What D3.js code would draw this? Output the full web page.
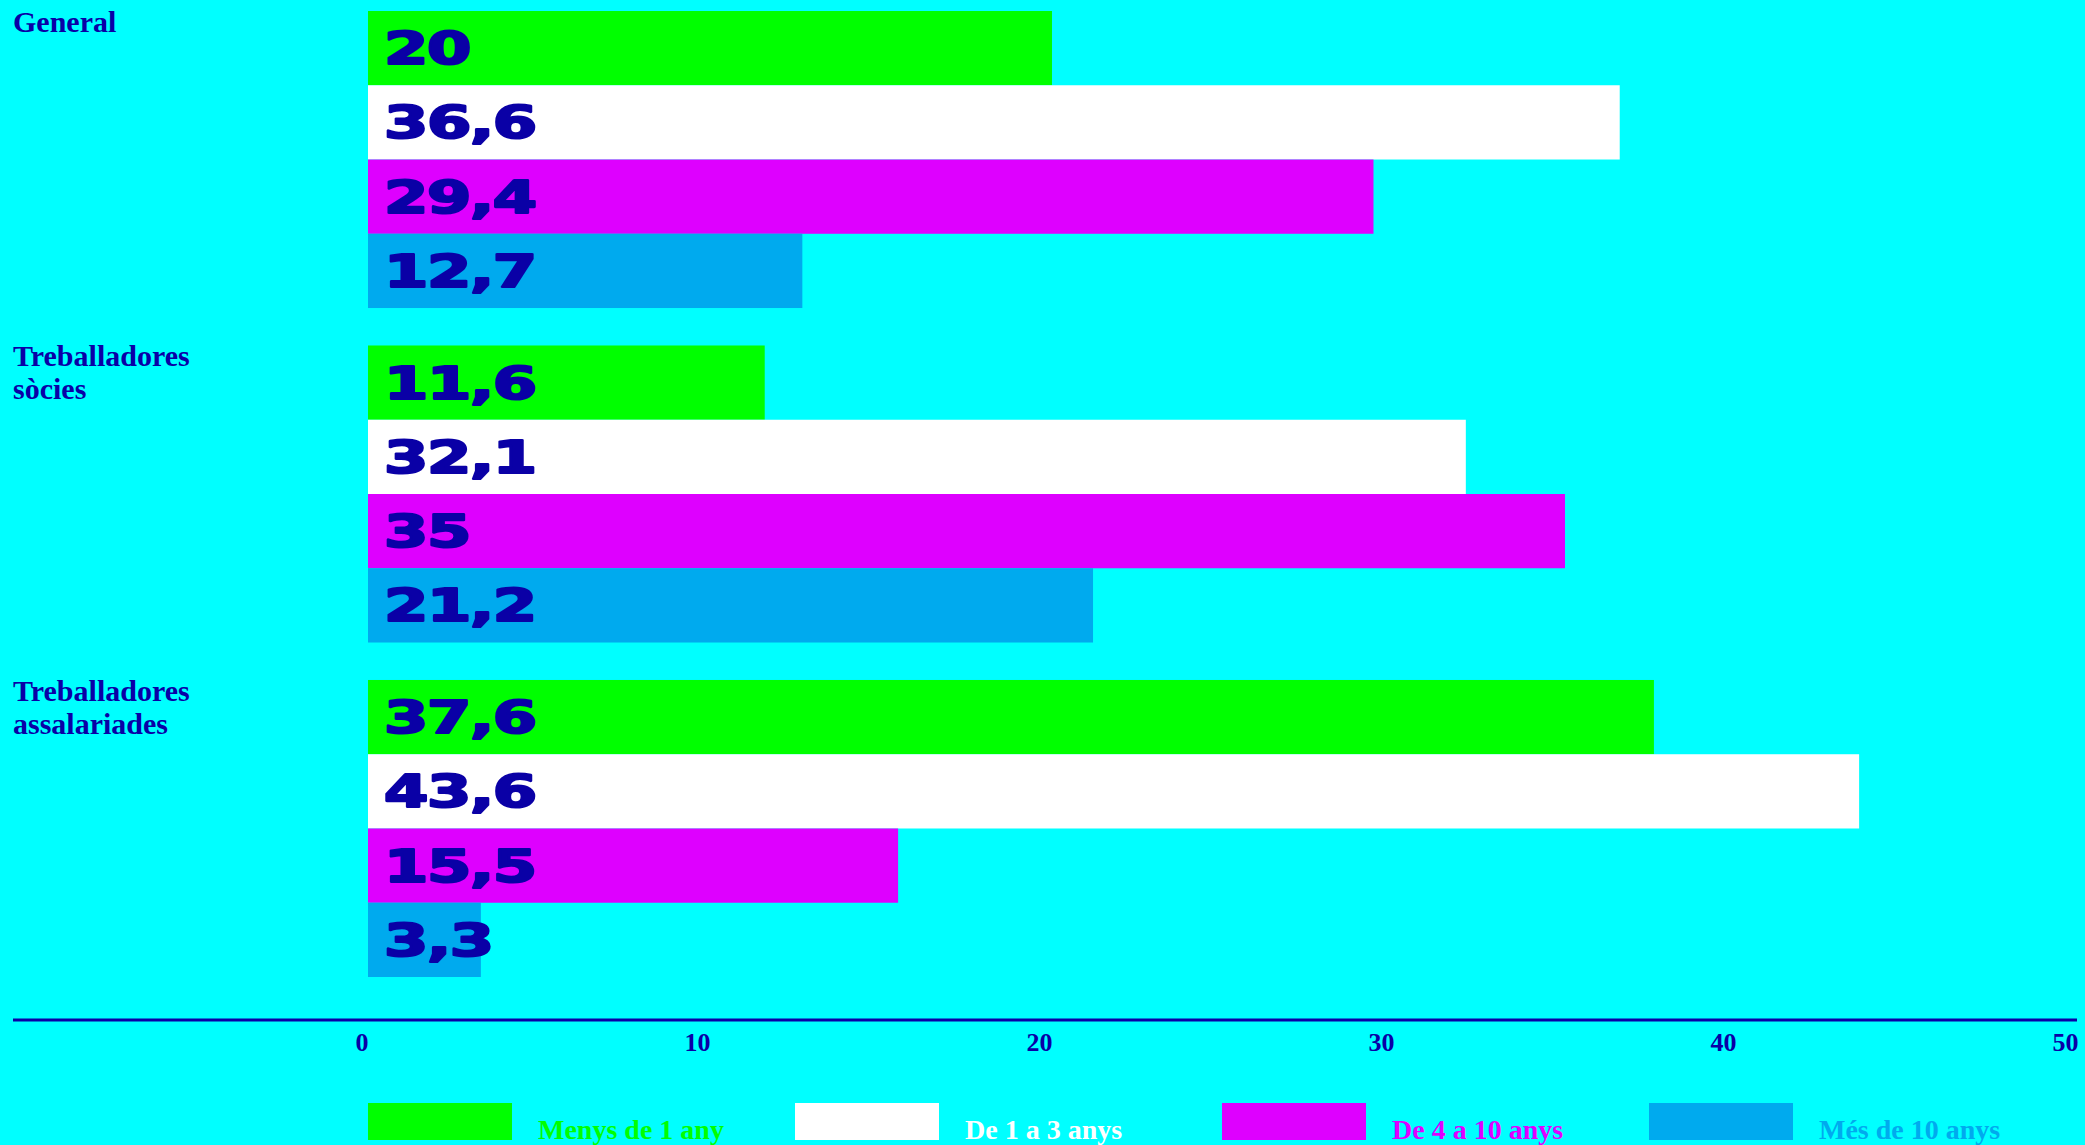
<!DOCTYPE html>
<html>
<head>
<meta charset="utf-8">
<script src="https://cdn.jsdelivr.net/npm/d3@7"></script>
<style>
  html, body { margin: 0; padding: 0; background: #00ffff; overflow: hidden; }
  svg { display: block; }
</style>
</head>
<body>
<svg id="chart" width="2085" height="1145"></svg>
<script>
// ---- data ----
const categories = [["General"], ["Treballadores", "sòcies"], ["Treballadores", "assalariades"]];
const series = ["Menys de 1 any", "De 1 a 3 anys", "De 4 a 10 anys", "Més de 10 anys"];
const menysDe1 = [20, 11.6, 37.6];
const de1a3 = [36.6, 32.1, 43.6];
const de4a10 = [29.4, 35, 15.5];
const mesDe10 = [12.7, 21.2, 3.3];
const tickValues = [0, 10, 20, 30, 40, 50];
const colors = ["#00ff00", "#ffffff", "#de00ff", "#00aaee"];

const seriesValues = [menysDe1, de1a3, de4a10, mesDe10];
const textColor = "#0a00a6";

const svg = d3.select("#chart");
svg.append("rect").attr("width", 2085).attr("height", 1145).attr("fill", "#00ffff");

const x = d3.scaleLinear().domain([0, 50]).range([368, 2078]);
const y0 = d3.scaleBand().domain(d3.range(categories.length)).range([11, 977]).paddingInner(0.112).paddingOuter(0);
const y1 = d3.scaleBand().domain(d3.range(series.length)).range([0, y0.bandwidth()]).padding(0);
const color = d3.scaleOrdinal().domain(d3.range(series.length)).range(colors);

const fmt = v => String(v).replace(".", ",");

// groups
const groups = svg.selectAll("g.grp").data(categories).join("g")
  .attr("class", "grp")
  .attr("transform", (d, i) => `translate(0,${y0(i)})`);

// category labels
groups.append("text")
  .attr("x", 13)
  .attr("y", 21)
  .attr("fill", textColor)
  .style("font-family", "'Liberation Serif', serif")
  .style("font-weight", "bold")
  .style("font-size", "30px")
  .selectAll("tspan").data(d => d).join("tspan")
  .attr("x", 13)
  .attr("dy", (d, i) => i === 0 ? 0 : 33)
  .text(d => d);

// bars
groups.each(function(_, gi) {
  const g = d3.select(this);
  const items = series.map((s, si) => ({ si, v: seriesValues[si][gi] }));
  g.selectAll("rect.bar").data(items).join("rect")
    .attr("class", "bar")
    .attr("x", x(0))
    .attr("y", d => y1(d.si))
    .attr("width", d => x(d.v) - x(0))
    .attr("height", y1.bandwidth())
    .attr("fill", d => color(d.si));

  const lbl = g.selectAll("g.val").data(items).join("g")
    .attr("class", "val")
    .attr("transform", d => `translate(${x(0) + 16},${y1(d.si) + y1.bandwidth() / 2 + 16})`);
  lbl.append("text")
    .attr("transform", "scale(1.45,1)")
    .attr("fill", textColor)
    .attr("stroke", textColor)
    .attr("stroke-width", 2.2)
    .attr("stroke-linejoin", "round")
    .style("letter-spacing", "-1px")
    .style("font-family", "'DejaVu Sans', sans-serif")
    .style("font-weight", "bold")
    .style("font-size", "44px")
    .text(d => fmt(d.v));
});

// axis
const axisY = 1020;
svg.append("line")
  .attr("x1", 13).attr("x2", 2077)
  .attr("y1", axisY).attr("y2", axisY)
  .attr("stroke", textColor).attr("stroke-width", 3);

const axis = d3.axisBottom(x).tickValues(tickValues).tickSize(0).tickPadding(0).tickFormat(d3.format("d"));
const axG = svg.append("g").attr("transform", `translate(0,${axisY})`).call(axis);
axG.select(".domain").remove();
axG.selectAll(".tick text")
  .attr("y", 31)
  .attr("dy", 0)
  .attr("text-anchor", "end")
  .attr("fill", textColor)
  .style("font-family", "'Liberation Serif', serif")
  .style("font-weight", "bold")
  .style("font-size", "26px");

// legend
const legendX = d3.scalePoint().domain(d3.range(series.length)).range([368, 1649]);
const leg = svg.selectAll("g.leg").data(series).join("g")
  .attr("class", "leg")
  .attr("transform", (d, i) => `translate(${legendX(i)},1103)`);
leg.append("rect").attr("width", 144).attr("height", 37).attr("fill", (d, i) => color(i));
leg.append("text")
  .attr("x", 170).attr("y", 36)
  .attr("fill", (d, i) => color(i))
  .style("font-family", "'Liberation Serif', serif")
  .style("font-weight", "bold")
  .style("font-size", "28px")
  .text(d => d);
</script>
</body>
</html>
